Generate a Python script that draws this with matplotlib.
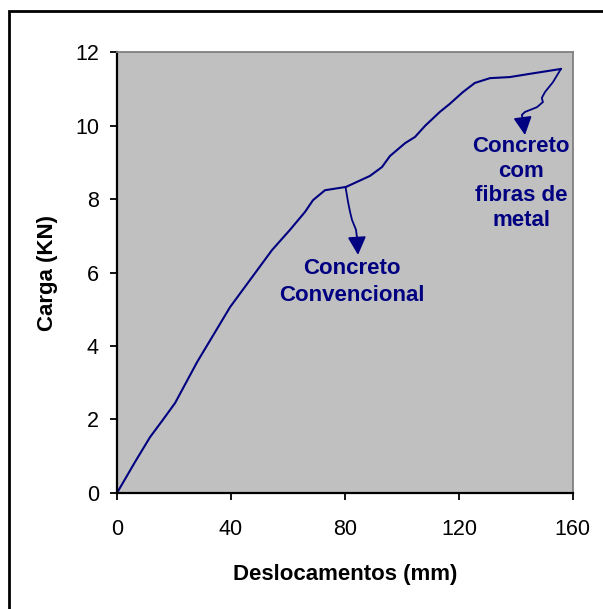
import matplotlib
matplotlib.use("Agg")
import matplotlib.pyplot as plt
from matplotlib.patches import Rectangle

plt.rcParams['font.family'] = ['Liberation Sans', 'DejaVu Sans']

# load-displacement curve
desloc = [0, 6.3, 11.6, 16.1, 20.4, 28.1, 39.7, 54.4, 60.7, 66.0, 68.8, 73.0,
          80.4, 88.8, 93.0, 95.8, 101.1, 104.6, 108.1, 113.3, 116.8, 121.4,
          125.6, 130.9, 137.9, 146.7, 155.8]
carga = [0, 0.84, 1.52, 1.99, 2.45, 3.56, 5.06, 6.61, 7.16, 7.65, 7.97, 8.24,
         8.33, 8.63, 8.87, 9.17, 9.52, 9.69, 9.99, 10.37, 10.59, 10.91,
         11.16, 11.29, 11.32, 11.43, 11.54]

# hand-drawn arrow paths (last point = arrow tip)
seta1_x = [80.2, 81.1, 81.8, 82.5, 83.9, 84.2, 84.6]
seta1_y = [8.33, 7.92, 7.65, 7.43, 7.16, 6.97, 6.48]
seta2_x = [155.8, 153.0, 150.2, 149.1, 149.5, 147.4, 143.2, 142.1, 142.5, 143.2]
seta2_y = [11.54, 11.18, 10.91, 10.75, 10.64, 10.50, 10.37, 10.29, 10.15, 9.74]

xticks = [0, 40, 80, 120, 160]
yticks = [0, 2, 4, 6, 8, 10, 12]

azul = '#000080'

fig = plt.figure(figsize=(6.03, 6.09), dpi=100)
ax = fig.add_axes([0.194, 0.1905, 0.756, 0.724])
ax.set_facecolor('#C0C0C0')

ax.plot(desloc, carga, color=azul, lw=1.5)

for sx, sy in [(seta1_x, seta1_y), (seta2_x, seta2_y)]:
    ax.plot(sx[:-1], sy[:-1], color=azul, lw=1.3)
    ax.annotate('', xy=(sx[-1], sy[-1]), xytext=(sx[-2], sy[-2]),
                arrowprops=dict(arrowstyle='-|>,head_length=0.55,head_width=0.28',
                                color=azul, lw=1.3, mutation_scale=20,
                                shrinkA=0, shrinkB=0))

ax.text(82.5, 5.74, 'Concreto\nConvencional', color=azul, fontsize=16,
        fontweight='bold', ha='center', va='center', linespacing=1.4)
ax.text(141.9, 8.42, 'Concreto\ncom\nfibras de\nmetal', color=azul, fontsize=16,
        fontweight='bold', ha='center', va='center', linespacing=1.22)

ax.set_xlim(0, 160)
ax.set_ylim(0, 12)
ax.set_xticks(xticks)
ax.set_yticks(yticks)
ax.tick_params(axis='both', direction='out', length=5, width=1.3,
               labelsize=15.5, color='black')
ax.tick_params(axis='x', pad=14)
ax.tick_params(axis='y', pad=8)

for s in ['left', 'bottom']:
    ax.spines[s].set_color('black')
    ax.spines[s].set_linewidth(1.6)
for s in ['top', 'right']:
    ax.spines[s].set_color('#808080')
    ax.spines[s].set_linewidth(1.3)

ax.set_xlabel('Deslocamentos (mm)', fontsize=16, fontweight='bold', labelpad=17)
ax.set_ylabel('Carga (KN)', fontsize=16, fontweight='bold', labelpad=12)

# outer chart border (right/bottom edges fall outside the image)
fig.patches.append(Rectangle((0.0145, -0.1), 1.2, 1.082, transform=fig.transFigure,
                             fill=False, edgecolor='black', lw=2))

fig.savefig('out.png', dpi=100)
